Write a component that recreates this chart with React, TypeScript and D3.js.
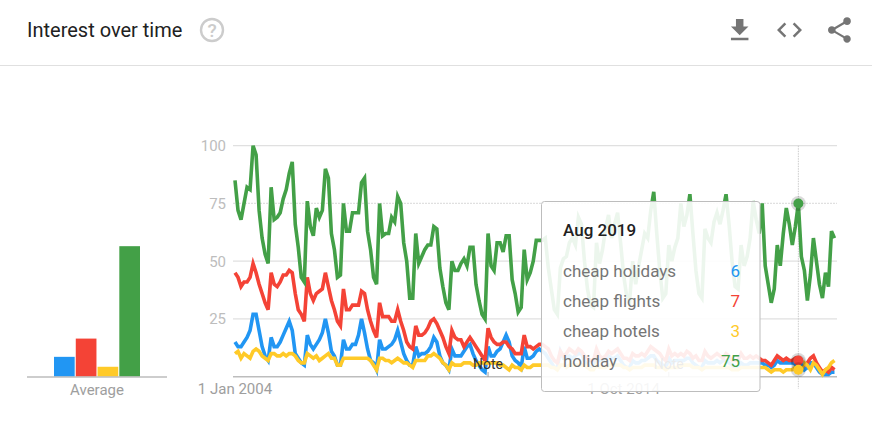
import React from "react";
import * as d3 from "d3";

const seriesNames = ["cheap holidays", "cheap flights", "cheap hotels", "holiday"];
const seriesColors = ["#2196F3", "#F44336", "#FFCA28", "#43A047"];

// monthly values, Jan 2004 to Aug 2020
const cheapHolidays = [
  15, 13, 13, 15, 17, 20, 27, 27, 20, 13, 9, 7,
  17, 13, 13, 15, 18, 21, 24, 20, 10, 8, 6, 5,
  18, 14, 12, 14, 16, 19, 25, 19, 11, 9, 5, 5,
  16, 12, 12, 14, 14, 18, 25, 19, 12, 7, 6, 3,
  16, 12, 12, 13, 14, 16, 20, 15, 10, 7, 5, 5,
  13, 9, 10, 10, 11, 13, 17, 15, 9, 6, 5, 3,
  12, 9, 9, 9, 11, 13, 14, 10, 7, 5, 3, 2,
  13, 9, 9, 11, 12, 15, 18, 15, 9, 7, 6, 4,
  13, 8, 8, 9, 11, 12, 11, 10, 8, 6, 4, 4,
  11, 8, 8, 9, 8, 9, 10, 10, 7, 5, 4, 4,
  8, 7, 7, 8, 9, 8, 8, 9, 7, 5, 4, 4,
  7, 6, 6, 7, 7, 8, 9, 9, 7, 6, 5, 4,
  8, 6, 7, 7, 7, 7, 8, 8, 6, 5, 4, 4,
  7, 6, 6, 6, 7, 6, 7, 7, 6, 5, 4, 4,
  6, 5, 5, 6, 6, 6, 6, 6, 5, 5, 4, 5,
  7, 6, 6, 6, 6, 6, 6, 6, 5, 3, 4, 6,
  6, 4, 2, 1, 1, 1, 2, 2,
];

const cheapFlights = [
  45, 43, 39, 41, 41, 43, 49, 45, 40, 36, 32, 29,
  45, 40, 39, 41, 44, 44, 46, 45, 36, 29, 27, 24,
  43, 36, 33, 36, 37, 38, 45, 39, 33, 29, 24, 22,
  38, 29, 29, 31, 31, 31, 37, 36, 29, 24, 20, 17,
  32, 26, 26, 26, 24, 24, 29, 24, 20, 15, 13, 12,
  22, 18, 18, 19, 21, 24, 25, 23, 20, 17, 13, 10,
  20, 17, 16, 16, 13, 15, 17, 15, 13, 11, 9, 7,
  21, 17, 15, 14, 14, 15, 15, 13, 12, 10, 10, 10,
  18, 13, 13, 12, 13, 14, 14, 13, 12, 9, 7, 6,
  11, 9, 10, 12, 11, 10, 12, 11, 9, 8, 7, 7,
  12, 9, 8, 9, 11, 10, 11, 12, 10, 8, 8, 7,
  10, 9, 9, 10, 9, 11, 13, 12, 11, 10, 8, 7,
  12, 9, 10, 9, 10, 9, 11, 10, 8, 9, 7, 7,
  11, 9, 8, 9, 10, 9, 8, 10, 9, 7, 7, 7,
  10, 8, 8, 9, 8, 9, 8, 7, 7, 6, 5, 7,
  9, 8, 7, 8, 7, 7, 8, 7, 6, 5, 6, 8,
  9, 6, 4, 2, 3, 2, 4, 3,
];

const cheapHotels = [
  10, 11, 8, 10, 9, 8, 11, 12, 11, 9, 8, 7,
  10, 10, 9, 9, 10, 9, 10, 10, 9, 7, 6, 6,
  10, 9, 8, 9, 7, 8, 9, 10, 8, 8, 5, 5,
  8, 8, 8, 8, 8, 8, 8, 8, 8, 7, 5, 3,
  8, 8, 7, 7, 6, 7, 8, 7, 6, 6, 5, 4,
  7, 7, 7, 7, 9, 9, 10, 9, 8, 6, 5, 3,
  6, 5, 5, 5, 6, 6, 6, 5, 5, 6, 6, 6,
  6, 6, 6, 6, 5, 5, 4, 3, 5, 4, 4, 3,
  5, 4, 4, 5, 5, 5, 5, 5, 5, 4, 4, 3,
  5, 5, 4, 5, 5, 5, 5, 5, 5, 4, 3, 3,
  5, 4, 4, 4, 5, 5, 5, 5, 5, 4, 4, 3,
  4, 4, 4, 4, 5, 5, 5, 5, 4, 4, 4, 3,
  4, 4, 4, 4, 5, 5, 5, 5, 4, 4, 4, 3,
  4, 4, 4, 4, 4, 4, 4, 4, 4, 3, 3, 3,
  4, 4, 4, 4, 4, 4, 4, 4, 4, 3, 2, 3,
  3, 3, 2, 3, 3, 3, 4, 3, 3, 6, 5, 3,
  6, 5, 3, 1, 3, 4, 6, 7,
];

const holiday = [
  85, 72, 68, 75, 82, 81, 100, 96, 72, 60, 53, 49,
  82, 68, 69, 71, 77, 81, 88, 93, 66, 56, 43, 41,
  76, 65, 61, 73, 69, 72, 90, 86, 62, 55, 43, 44,
  75, 63, 63, 71, 71, 71, 84, 86, 63, 55, 43, 40,
  75, 61, 62, 62, 69, 67, 78, 75, 58, 50, 34, 34,
  62, 49, 52, 55, 57, 57, 65, 64, 47, 39, 32, 29,
  50, 46, 46, 49, 51, 48, 56, 56, 40, 33, 27, 25,
  62, 48, 46, 58, 58, 54, 61, 61, 42, 36, 28, 30,
  55, 42, 45, 50, 59, 59, 59, 60, 47, 38, 29, 27,
  47, 51, 52, 58, 60, 57, 69, 66, 50, 38, 31, 30,
  58, 49, 55, 64, 70, 60, 66, 71, 58, 44, 35, 33,
  50, 40, 48, 55, 62, 60, 72, 80, 62, 46, 34, 36,
  57, 50, 56, 60, 75, 65, 70, 79, 62, 46, 36, 34,
  64, 60, 58, 67, 71, 66, 72, 79, 66, 50, 39, 38,
  57, 48, 52, 60, 76, 68, 62, 75, 48, 40, 32, 38,
  57, 48, 62, 73, 66, 57, 65, 75, 52, 46, 33, 44,
  60, 50, 40, 34, 45, 39, 63, 60,
];

const allSeries = [cheapHolidays, cheapFlights, cheapHotels, holiday];
const averages = [8.6, 16.5, 4.3, 56.5];
const yTicks = [100, 75, 50, 25];
const xTickLabels = [
  { month: 0, label: "1 Jan 2004" },
  { month: 129, label: "1 Oct 2014" },
];
const noteMonths = [84, 144];
const hoverMonth = 187;
const hoverLabel = "Aug 2019";

const font = "Roboto, sans-serif";

export default function App() {
  const x = d3.scaleLinear().domain([0, 199]).range([235, 834.5]);
  const y = d3.scaleLinear().domain([0, 100]).range([376.7, 145.7]);
  const barX = d3
    .scaleBand<string>()
    .domain(seriesNames)
    .range([54, 140])
    .paddingInner(0.05);

  const line = d3
    .line<number>()
    .x((_, i) => x(i))
    .y((d) => y(d))
    .curve(d3.curveLinear);

  return (
    <svg
      width={872}
      height={441}
      style={{ position: "absolute", left: 0, top: 0, fontFamily: font }}
    >
      <rect width={872} height={441} fill="#fff" />

      {/* header */}
      <text x={27} y={37} fontSize={20} fill="#212121">
        Interest over time
      </text>
      <circle cx={212} cy={30} r={11} fill="none" stroke="#ccc" strokeWidth={2.4} />
      <text x={212} y={37} fontSize={19} fontWeight={500} fill="#ccc" textAnchor="middle">
        ?
      </text>
      <line x1={0} x2={872} y1={65.5} y2={65.5} stroke="#e0e0e0" />
      <g fill="#757575">
        <path
          transform="translate(724.7,15.3) scale(1.25)"
          d="M19 9h-4V3H9v6H5l7 7 7-7zM5 18v2h14v-2H5z"
        />
        <path
          transform="translate(774.5,15) scale(1.25)"
          d="M9.4 16.6L4.8 12l4.6-4.6L8 6l-6 6 6 6 1.4-1.4zm5.2 0l4.6-4.6-4.6-4.6L16 6l6 6-6 6-1.4-1.4z"
        />
        <path
          transform="translate(824.2,14.8) scale(1.27)"
          d="M18 16.08c-.76 0-1.44.3-1.96.77L8.91 12.7c.05-.23.09-.46.09-.7s-.04-.47-.09-.7l7.05-4.11c.54.5 1.25.81 2.04.81 1.66 0 3-1.34 3-3s-1.34-3-3-3-3 1.34-3 3c0 .24.04.47.09.7L8.04 9.81C7.5 9.31 6.79 9 6 9c-1.66 0-3 1.34-3 3s1.34 3 3 3c.79 0 1.5-.31 2.04-.81l7.12 4.16c-.05.21-.08.43-.08.65 0 1.61 1.31 2.92 2.92 2.92 1.61 0 2.92-1.31 2.92-2.92s-1.31-2.92-2.92-2.92z"
        />
      </g>

      {/* average bars */}
      {averages.map((d, i) => (
        <rect
          key={seriesNames[i]}
          x={barX(seriesNames[i])}
          y={y(d)}
          width={barX.bandwidth()}
          height={y(0) - y(d)}
          fill={seriesColors[i]}
        />
      ))}
      <line x1={27} x2={167} y1={377} y2={377} stroke="#bdbdbd" strokeWidth={1.5} />
      <text x={97} y={395} fontSize={15} fill="#9e9e9e" textAnchor="middle">
        Average
      </text>

      {/* grid and axes */}
      {yTicks.map((t) => (
        <g key={t}>
          <line
            x1={233}
            x2={837}
            y1={y(t)}
            y2={y(t)}
            stroke="#e0e0e0"
            strokeWidth={1.2}
            strokeDasharray={t === 75 ? "2 1" : undefined}
          />
          <text x={226} y={y(t) + 5.5} fontSize={15} fill="#bdbdbd" textAnchor="end">
            {t}
          </text>
        </g>
      ))}
      <line x1={233} x2={837} y1={y(0)} y2={y(0)} stroke="#bdbdbd" strokeWidth={1.5} />
      {xTickLabels.map((t) => (
        <text
          key={t.label}
          x={x(t.month)}
          y={394}
          fontSize={15}
          fill="#9e9e9e"
          textAnchor="middle"
        >
          {t.label}
        </text>
      ))}

      {/* hover guide */}
      <line
        x1={x(hoverMonth)}
        x2={x(hoverMonth)}
        y1={y(100)}
        y2={y(0) + 12}
        stroke="#ccc"
        strokeDasharray="1.5 1"
      />

      {/* series */}
      {allSeries.map((s, i) => (
        <path
          key={seriesNames[i]}
          d={line(s) ?? ""}
          fill="none"
          stroke={seriesColors[i]}
          strokeWidth={3.6}
          strokeLinejoin="miter"
        />
      ))}

      {/* hover dots */}
      {allSeries.map((s, i) => (
        <g key={seriesNames[i]}>
          <circle cx={x(hoverMonth)} cy={y(s[hoverMonth])} r={7.5} fill="#000" opacity={0.15} />
          <circle cx={x(hoverMonth)} cy={y(s[hoverMonth])} r={5} fill={seriesColors[i]} />
        </g>
      ))}

      {/* notes */}
      {noteMonths.map((m) => (
        <g key={m}>
          <line x1={x(m)} x2={x(m)} y1={372} y2={377} stroke="#9e9e9e" />
          <text x={x(m)} y={369} fontSize={14} fill="#333" textAnchor="middle">
            Note
          </text>
        </g>
      ))}

      {/* tooltip */}
      <rect
        x={541.5}
        y={201.5}
        width={218.5}
        height={190}
        rx={3}
        fill="#fff"
        fillOpacity={0.9}
        stroke="#bdbdbd"
        strokeWidth={1}
      />
      <text x={563} y={236} fontSize={17} fontWeight={500} fill="#212121">
        {hoverLabel}
      </text>
      {seriesNames.map((name, i) => (
        <g key={name}>
          <text x={563} y={277 + i * 30} fontSize={17} fill="#757575">
            {name}
          </text>
          <text x={740} y={277 + i * 30} fontSize={17} fill={seriesColors[i]} textAnchor="end">
            {allSeries[i][hoverMonth]}
          </text>
        </g>
      ))}
    </svg>
  );
}
